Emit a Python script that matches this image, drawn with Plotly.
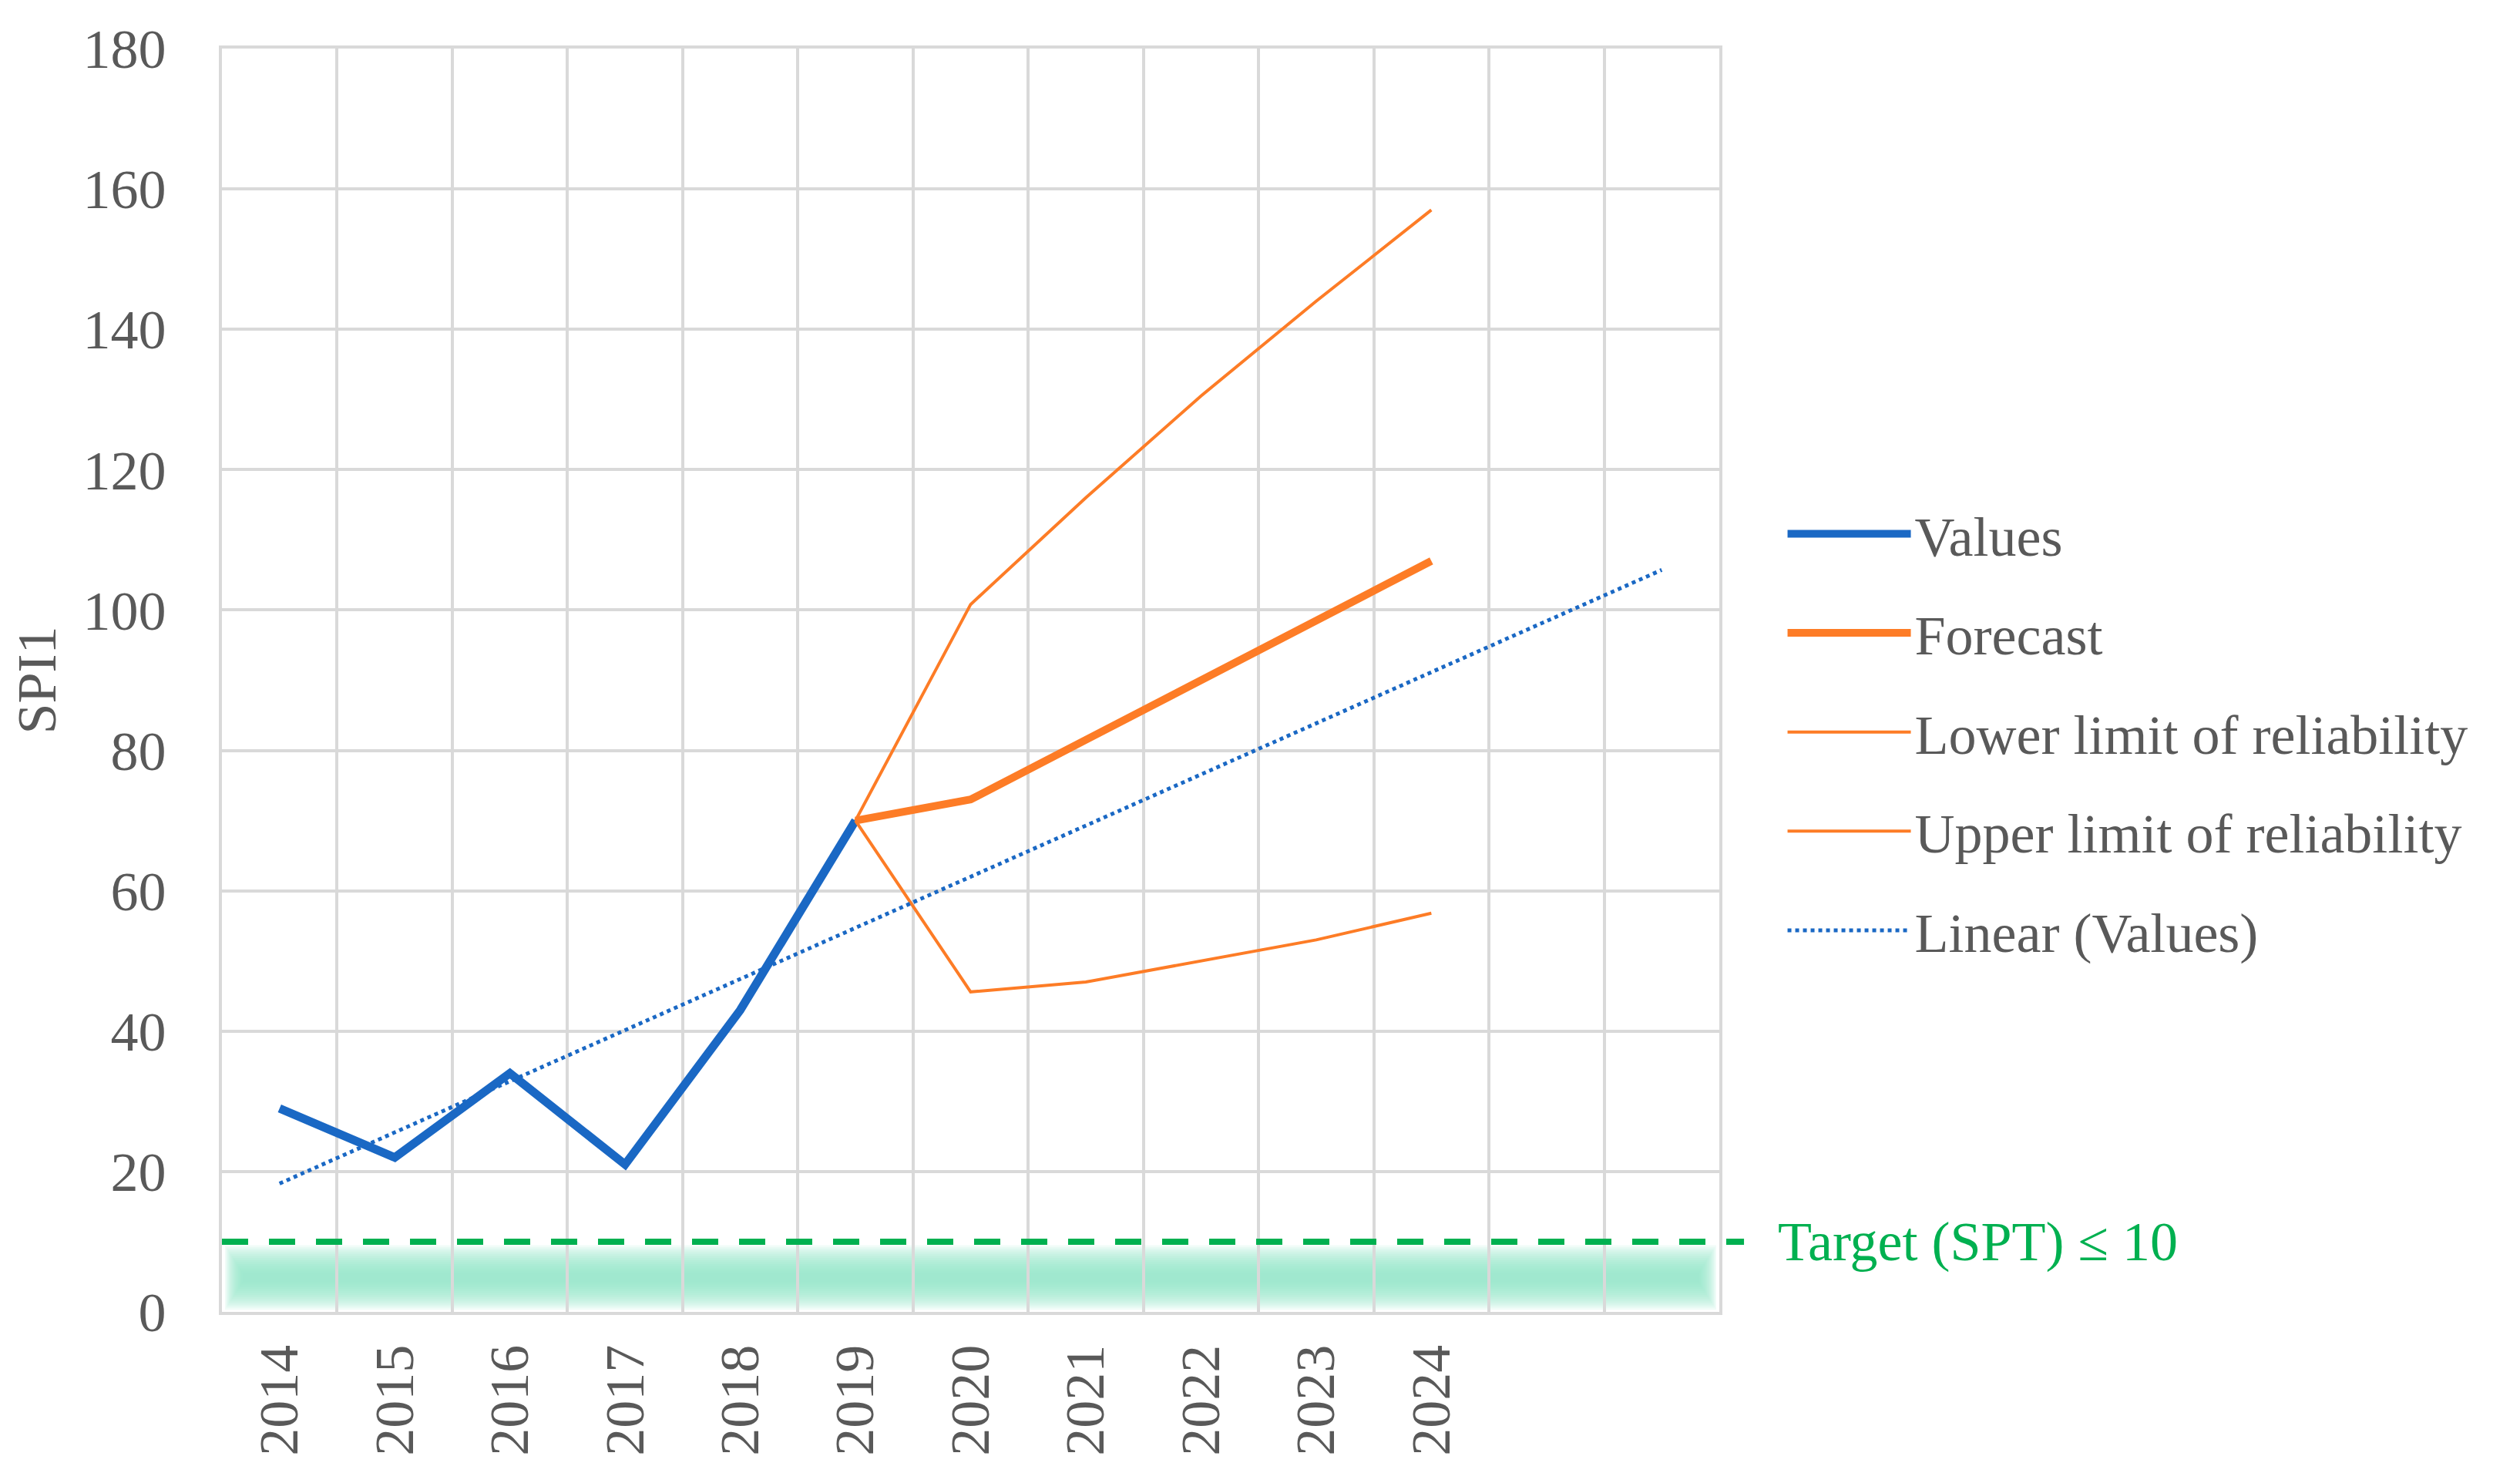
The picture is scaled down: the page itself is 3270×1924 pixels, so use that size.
import numpy as np
import plotly.graph_objects as go

# ---- data ----
years = [2014, 2015, 2016, 2017, 2018, 2019, 2020, 2021, 2022, 2023, 2024]
year_labels = [str(y) for y in years]
value_years = [2014, 2015, 2016, 2017, 2018, 2019]
values = [29, 22, 34, 21, 43, 70]
forecast_years = [2019, 2020, 2021, 2022, 2023, 2024]
forecast = [70, 73, 81.5, 90, 98.5, 107]
lower_limit = [70, 45.6, 47, 50, 53, 56.8]
upper_limit = [70, 100.8, 116, 130.5, 144, 157]
trend_years = list(range(2014, 2027))
target_value = 10
y_ticks = [0, 20, 40, 60, 80, 100, 120, 140, 160, 180]

# linear trendline of the observed values (as Excel computes it)
coef = np.polyfit(value_years, values, 1)
trend = np.polyval(coef, trend_years)

FONT = "Liberation Serif"
TXT = "#595959"
GRID = "#d9d9d9"
BLUE = "#1a68c4"
ORANGE = "#fd7c26"
GREEN = "#00b050"

fig = go.Figure()
fig.add_trace(go.Scatter(x=value_years, y=values, mode="lines", name="Values",
                         line=dict(color=BLUE, width=11), legendgroup="a"))
fig.add_trace(go.Scatter(x=forecast_years, y=forecast, mode="lines", name="Forecast",
                         line=dict(color=ORANGE, width=10), legendgroup="b"))
fig.add_trace(go.Scatter(x=forecast_years, y=lower_limit, mode="lines",
                         name="Lower limit of reliability",
                         line=dict(color=ORANGE, width=4), legendgroup="c"))
fig.add_trace(go.Scatter(x=forecast_years, y=upper_limit, mode="lines",
                         name="Upper limit of reliability",
                         line=dict(color=ORANGE, width=4), legendgroup="d"))
fig.add_trace(go.Scatter(x=trend_years, y=trend, mode="lines", name="Linear (Values)",
                         line=dict(color=BLUE, width=5, dash="dot"), legendgroup="e"))

# soft green band below the target (blurred look with stacked translucent rects)
n = 14
for i in range(n):
    d = i * 0.3
    fig.add_shape(type="rect", xref="paper", yref="y",
                  x0=0.002 + i * 0.0009, x1=0.998 - i * 0.0009,
                  y0=0.3 + d, y1=target_value - 0.5 - d,
                  fillcolor="rgb(150,230,200)", opacity=0.13,
                  line=dict(width=0), layer="below")

# target dashed line
fig.add_shape(type="line", xref="paper", yref="y", x0=0, x1=1.0165,
              y0=target_value, y1=target_value,
              line=dict(color=GREEN, width=8, dash="34px,27px"))
fig.add_annotation(xref="paper", yref="y", x=1.038, y=target_value,
                   xanchor="left", yanchor="middle", showarrow=False,
                   text="Target (SPT) ≤ 10",
                   font=dict(family=FONT, size=72, color=GREEN))

fig.update_layout(
    width=3270, height=1924,
    margin=dict(l=280, r=1047, t=55, b=230),
    paper_bgcolor="white", plot_bgcolor="white",
    font=dict(family=FONT, size=72, color=TXT),
    showlegend=True,
    legend=dict(x=1.043, xanchor="left", y=0.459, yanchor="middle",
                traceorder="grouped", tracegroupgap=32,
                font=dict(family=FONT, size=72, color=TXT),
                itemwidth=160, bgcolor="rgba(0,0,0,0)"),
)
fig.update_xaxes(range=[2013.5, 2026.5], tickmode="array", tickvals=years,
                 ticktext=year_labels, tickangle=-90, showgrid=False,
                 zeroline=False, showline=True, linecolor=GRID, linewidth=4,
                 mirror=True, ticks="", ticklabelstandoff=10,
                 tickfont=dict(family=FONT, size=72, color=TXT),
                 minor=dict(tick0=2013.5, dtick=1, showgrid=True,
                            gridcolor=GRID, gridwidth=4, ticks=""))
fig.update_yaxes(range=[0, 180], tickmode="array", tickvals=y_ticks,
                 showgrid=True, gridcolor=GRID, gridwidth=4, zeroline=False,
                 showline=True, linecolor=GRID, linewidth=4, mirror=True,
                 ticks="", ticklabelstandoff=54,
                 tickfont=dict(family=FONT, size=72, color=TXT),
                 title=dict(text="SPI1", standoff=30,
                            font=dict(family=FONT, size=72, color=TXT)))

fig.write_html("out.html")
